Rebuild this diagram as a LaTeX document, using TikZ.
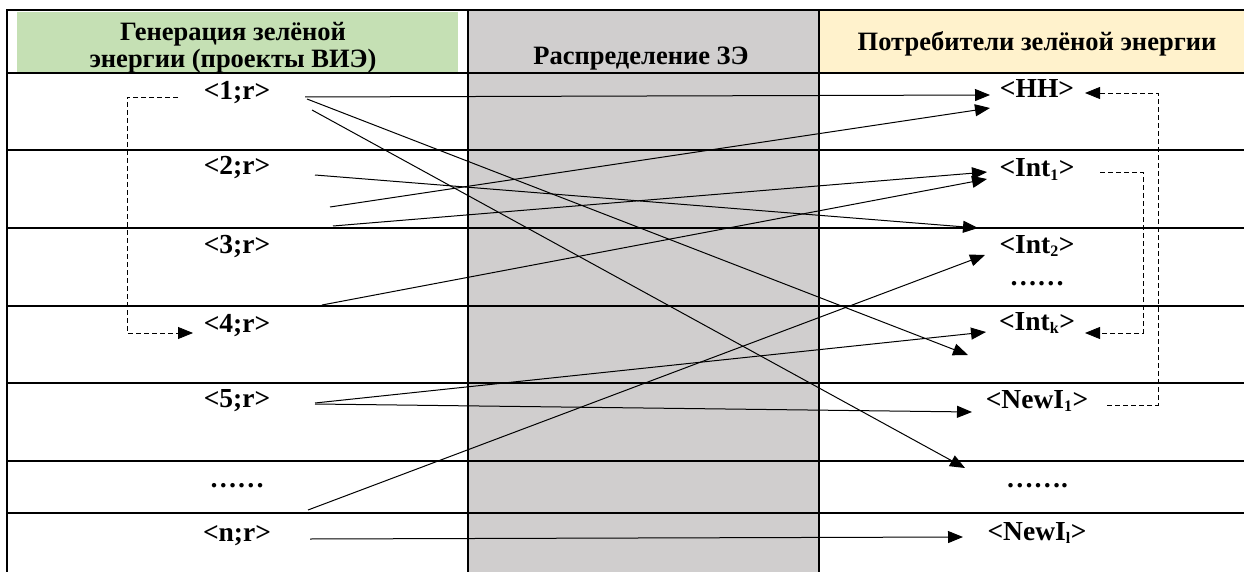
\documentclass[tikz,border=0pt]{standalone}
\usepackage{fontspec}
\setmainfont{Liberation Serif}
\usetikzlibrary{arrows.meta}
\definecolor{gengreen}{HTML}{C5E0B4}
\definecolor{distgrey}{HTML}{D0CECE}
\definecolor{consyellow}{HTML}{FFF2CC}
\newcommand{\lowidx}[1]{\textsubscript{\fontsize{16}{16}\selectfont #1}}
\begin{document}
\begin{tikzpicture}[x=1pt,y=-1pt,
    cell/.style={anchor=base,inner sep=0pt,font=\fontsize{27.5}{30}\selectfont\bfseries},
    head/.style={inner sep=0pt,align=center,font=\fontsize{26.5}{28}\selectfont\bfseries},
    tabline/.style={line width=1.5pt},
    arr/.style={line width=1pt,-{Triangle[length=15pt,width=12pt]}},
    link/.style={line width=.8pt,dash pattern=on 5pt off 3pt,-{Triangle[length=15pt,width=12pt]}}]
  \useasboundingbox (0,0) rectangle (1244,572);
  \fill[gengreen] (17,12) rectangle (458,72);
  \fill[distgrey] (468,10) rectangle (819,572);
  \fill[consyellow] (819,10) rectangle (1244,73);
  \draw[tabline] (7,572) -- (7,10) -- (1244,10);
  \draw[tabline] (468,10) -- (468,572);
  \draw[tabline] (819,10) -- (819,572);
  \draw[tabline] (7,73) -- (1244,73);
  \draw[tabline] (7,150) -- (1244,150);
  \draw[tabline] (7,228) -- (1244,228);
  \draw[tabline] (7,306) -- (1244,306);
  \draw[tabline] (7,383) -- (1244,383);
  \draw[tabline] (7,461) -- (1244,461);
  \draw[tabline] (7,513) -- (1244,513);

  \node[head] (hgen) at (233,48) {Генерация зелёной\\[-1pt]энергии (проекты ВИЭ)};
  \node[head,anchor=base] (hdist) at (641,65) {Распределение ЗЭ};
  \node[head,anchor=base] (hcons) at (1037,51) {Потребители зелёной энергии};

  \node[cell] (g1) at (237,100) {<1;r>};
  \node[cell] (g2) at (237,175) {<2;r>};
  \node[cell] (g3) at (237,253) {<3;r>};
  \node[cell] (g4) at (237,332) {<4;r>};
  \node[cell] (g5) at (237,407) {<5;r>};
  \node[cell] (gdots) at (237,487) {……};
  \node[cell] (gn) at (237,541) {<n;r>};

  \node[cell] (hh) at (1037,98) {<HH>};
  \node[cell] (int1) at (1037,177) {<Int\lowidx{1}>};
  \node[cell] (int2) at (1037,253) {<Int\lowidx{2}>};
  \node[cell] (idots) at (1037,285) {……};
  \node[cell] (intk) at (1037,330) {<Int\lowidx{k}>};
  \node[cell] (new1) at (1037,408) {<NewI\lowidx{1}>};
  \node[cell] (ndots) at (1037,487) {…….};
  \node[cell] (newl) at (1037,540) {<NewI\lowidx{l}>};

  \draw[arr] ([shift={(68,-3)}]g1.base) -- ([shift={(-47,-3)}]hh.base);
  \draw[arr] ([shift={(70,-1)}]g1.base) -- ([shift={(-69,25)}]intk.base);
  \draw[arr] ([shift={(75,10)}]g1.base) -- ([shift={(-72,-19)}]ndots.base);
  \draw[arr] ([shift={(78,0)}]g2.base) -- ([shift={(-59,-25)}]int2.base);
  \draw[arr] ([shift={(93,32)}]g2.base) -- ([shift={(-47,10)}]hh.base);
  \draw[arr] ([shift={(96,-27)}]g3.base) -- ([shift={(-50,-5)}]int1.base);
  \draw[arr] ([shift={(85,-27)}]g4.base) -- ([shift={(-50,2)}]int1.base);
  \draw[arr] ([shift={(78,-4)}]g5.base) -- ([shift={(-51,2)}]intk.base);
  \draw[arr] ([shift={(78,-3)}]g5.base) -- ([shift={(-65,4)}]new1.base);
  \draw[arr] ([shift={(71,23)}]gdots.base) -- ([shift={(-52,2)}]int2.base);
  \draw[arr] ([shift={(73,-2)}]gn.base) -- ([shift={(-74,-3)}]newl.base);

  \draw[link] ([shift={(-59,-3)}]g1.base) -- ++(-51,0) |- ([shift={(-44,1)}]g4.base);
  \draw[link] ([shift={(70,-3)}]new1.base) -- ++(51,0) |- ([shift={(48,-5)}]hh.base);
  \draw[link] ([shift={(63,-5)}]int1.base) -- ++(43,0) |- ([shift={(48,3)}]intk.base);
\end{tikzpicture}
\end{document}
